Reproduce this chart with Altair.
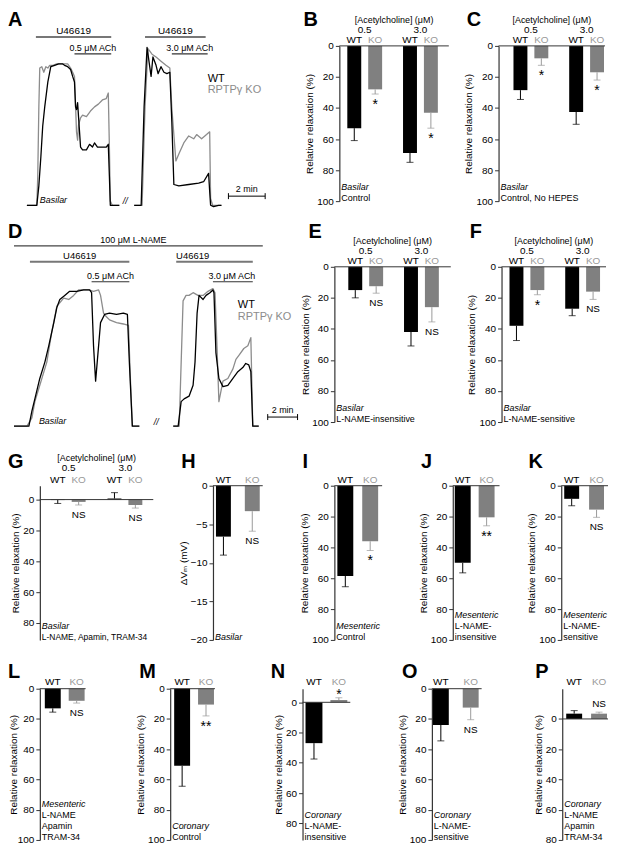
import altair as alt
import pandas as pd

FONT = "Liberation Sans"
AX = "#333333"
KO_BAR = "#808080"
KO_LINE = "#9a9a9a"
KO_TEXT = "#999999"
KO_TRACE = "#8c8c8c"

# ================= Panel A : tension traces, basilar (time in min, % of plateau)
A1_WT_t = [0, 0.54, 0.65, 0.76, 0.86, 0.97, 1.14, 1.30, 1.51, 1.73, 1.95, 2.05, 2.22, 2.38, 2.49, 2.59, 2.65, 2.70, 2.76, 2.81, 2.92, 3.03, 3.24, 3.41, 3.57, 3.68, 3.84, 4.00, 4.16, 4.32, 4.43, 4.49, 4.54, 5.03]
A1_WT_v = [0, 0, 14, 35, 57, 71, 89, 100, 101, 102, 102, 101, 100, 98, 93, 89, 71, 69, 74, 64, 42, 40, 40, 44, 42, 45, 42, 42, 42, 42, 44, 21, 0, 0]
A1_KO_t = [0, 0.54, 0.59, 0.65, 0.70, 0.81, 0.92, 1.03, 1.14, 1.24, 1.41, 1.62, 1.84, 2.05, 2.22, 2.38, 2.49, 2.59, 2.65, 2.70, 2.76, 2.81, 2.92, 3.03, 3.24, 3.46, 3.68, 3.89, 4.11, 4.32, 4.43, 4.49, 4.54, 4.65, 5.03]
A1_KO_v = [0, 0, 21, 71, 99, 100, 96, 100, 99, 101, 101, 102, 102, 102, 102, 99, 96, 93, 71, 53, 47, 58, 63, 65, 64, 68, 71, 73, 76, 77, 81, 42, 3, 0, 0]
A2_WT_t = [5.84, 6.22, 6.38, 6.54, 6.76, 6.86, 7.03, 7.14, 7.30, 7.46, 7.62, 7.78, 7.89, 8.00, 8.27, 8.81, 9.35, 9.62, 9.89, 9.95, 10.00, 10.16, 10.43, 10.59]
A2_WT_v = [0, 0, 71, 114, 93, 107, 101, 95, 100, 96, 95, 96, 60, 15, 14, 15, 16, 17, 23, 10, 0, -1, 0, 0]
A2_KO_t = [5.84, 6.27, 6.43, 6.59, 6.81, 7.03, 7.30, 7.57, 7.78, 7.89, 8.11, 8.27, 8.54, 8.81, 9.08, 9.24, 9.51, 9.78, 9.95, 10.00, 10.11, 10.59]
A2_KO_v = [0, 0, 71, 113, 109, 107, 104, 101, 99, 70, 32, 37, 45, 50, 48, 51, 48, 51, 53, 5, 0, 0]
A_U46619_start = [0.49, 6.43]
A_U46619_end = [4.59, 9.73]
A_ACh_start = [2.59, 7.89]
A_ACh_end = [4.59, 9.84]
A_ACh_label = ["0.5 μM ACh", "3.0 μM ACh"]
A_scalebar = [10.97, 12.97]
A_break_t = [5.35]
A_legend_t = [9.84]
A_basilar_t = [0.70]

# ================= Panel D : tension traces with L-NAME
D1_WT_t = [0, 1.0, 1.2, 1.4, 1.73, 2.07, 2.33, 2.67, 2.87, 3.07, 3.4, 3.73, 4.2, 4.67, 5.07, 5.2, 5.33, 5.47, 5.67, 5.8, 6.07, 6.4, 6.87, 7.33, 7.6, 7.73, 7.93, 8.4]
D1_WT_v = [0, 0, 11, 20, 35, 47, 59, 76, 87, 93, 96, 99, 99, 100, 100, 98, 59, 33, 59, 76, 82, 83, 82, 83, 82, 47, 0, 0]
D1_KO_t = [0, 0.87, 1.2, 1.4, 1.73, 2.2, 2.53, 2.87, 3.33, 3.67, 4.0, 4.33, 5.0, 5.33, 5.67, 5.8, 6.0, 6.13, 6.4, 6.87, 7.33, 7.67, 7.8, 7.93, 8.4]
D1_KO_v = [0, 0, 6, 18, 30, 47, 69, 88, 94, 93, 96, 100, 100, 99, 100, 96, 83, 81, 78, 76, 75, 74, 35, 0, 0]
D2_WT_t = [10.67, 11.0, 11.2, 11.4, 11.73, 12.0, 12.13, 12.27, 12.4, 12.67, 12.87, 13.13, 13.33, 13.4, 13.53, 13.73, 14.0, 14.33, 14.67, 15.0, 15.33, 15.53, 15.73, 15.87, 16.0, 16.4]
D2_WT_v = [0, 0, 18, 20, 22, 30, 47, 83, 96, 93, 96, 98, 100, 98, 54, 35, 29, 30, 35, 40, 43, 46, 45, 40, 0, 0]
D2_KO_t = [10.67, 11.07, 11.33, 11.53, 11.73, 12.0, 12.33, 12.67, 13.0, 13.33, 13.47, 13.6, 13.73, 14.0, 14.33, 14.67, 14.87, 15.07, 15.4, 15.67, 15.87, 16.0, 16.4]
D2_KO_v = [0, 0, 92, 96, 96, 98, 96, 96, 99, 101, 98, 59, 18, 33, 35, 42, 49, 52, 57, 59, 65, 0, 0]
D_LNAME = [0.0, 16.67]
D_U46619_start = [1.07, 10.87]
D_U46619_end = [7.73, 16.0]
D_U46619_label_t = [4.4, 11.97]
D_ACh_start = [5.2, 13.33]
D_ACh_end = [7.73, 16.0]
D_ACh_label_t = [6.47, 14.6]
D_scalebar = [17.0, 19.0]
D_break_t = [9.53]
D_legend_t = [15.0]
D_basilar_t = [1.67]

# ================= Bar panels (relative relaxation %, mean and SEM)
DOSES = ["0.5", "3.0"]
GENOS = ["WT", "KO"]
B_WT = [53, 69];   B_WT_sem = [8, 6];    B_KO = [28, 43];  B_KO_sem = [3, 10];   B_sig = ["*", "*"]
C_WT = [28.5, 42.5]; C_WT_sem = [6, 8];  C_KO = [8, 17];   C_KO_sem = [4.5, 5];  C_sig = ["*", "*"]
E_WT = [15, 42];   E_WT_sem = [5, 9];    E_KO = [12.5, 26]; E_KO_sem = [4.5, 9.5]; E_sig = ["NS", "NS"]
F_WT = [38, 27];   F_WT_sem = [9.5, 4.5]; F_KO = [15, 16]; F_KO_sem = [3, 5];    F_sig = ["*", "NS"]
G_WT = [0.3, -0.7]; G_WT_sem = [2.2, 3.8]; G_KO = [1.5, 3.5]; G_KO_sem = [2, 2]; G_sig = ["NS", "NS"]
# two-bar panels: [WT, KO]
H_val = [-6.6, -3.3]; H_sem = [2.4, 2.6]; H_sig = "NS"
I_val = [58.5, 36];   I_sem = [7, 6];     I_sig = "*"
J_val = [50, 20.5];   J_sem = [6.5, 5.5]; J_sig = "**"
K_val = [8.5, 15.5];  K_sem = [4.5, 5];   K_sig = "NS"
L_val = [13, 8];      L_sem = [2.5, 1.5]; L_sig = "NS"
M_val = [51, 10.5];   M_sem = [13.5, 7.5]; M_sig = "**"
N_val = [27, -1.5];   N_sem = [10.5, 1.5]; N_sig = "*"
O_val = [24, 12.5];   O_sem = [10.5, 8];  O_sig = "NS"
P_val = [-3.5, -3.5]; P_sem = [2, 1];     P_sig = "NS"

ONE = alt.Data(values=[{"k": 0}])


def finish_df(df, rev):
    sign = df["value"].apply(lambda v: 1 if v >= 0 else -1)
    df["end"] = df["value"] + df["sem"] * sign
    df["below"] = (df["end"] > df["value"]) if rev else (df["end"] < df["value"])
    return df


def grouped_df(wt, wt_sem, ko, ko_sem, sig, rev=True):
    rows = []
    for i, d in enumerate(DOSES):
        rows.append(dict(dose=d, geno="WT", value=wt[i], sem=wt_sem[i], sig=""))
        rows.append(dict(dose=d, geno="KO", value=ko[i], sem=ko_sem[i], sig=sig[i]))
    return finish_df(pd.DataFrame(rows), rev)


def pair_df(val, sem, sig, rev=True):
    df = pd.DataFrame(dict(geno=GENOS, value=val, sem=sem, sig=["", sig]))
    return finish_df(df, rev)


def marker(LEFT, TOP, H, BOT):
    return alt.Chart(ONE).mark_rule(opacity=0, strokeWidth=0).encode(
        x=alt.value(-LEFT), y=alt.value(-TOP), y2=alt.value(H + BOT))


def letter(ch, x, y):
    return alt.Chart(ONE).mark_text(
        text=ch, font=FONT, fontSize=20, fontWeight="bold", align="left",
        baseline="top", color="black").encode(x=alt.value(x), y=alt.value(y))


def bar_panel(ch, lx, ly, df, W, H, LEFT, TOP, BOT, ydom, yticks, rev, ytitle,
              notes, grouped, step, band, start, title_pad=2, geno_y=-6,
              dose_y=-16, header_y=-26):
    pi = 1 - band / step
    po = (W - step - band) / (2 * step)
    al = start / (W - step - band)
    if grouped:
        xs = alt.Scale(domain=DOSES, paddingInner=pi, paddingOuter=po, align=al)
        xe = dict(x=alt.X("dose:N", scale=xs, axis=None),
                  xOffset=alt.XOffset("geno:N", scale=alt.Scale(
                      domain=GENOS, paddingInner=1 / 3, paddingOuter=0)))
    else:
        xs = alt.Scale(domain=GENOS, paddingInner=pi, paddingOuter=po, align=al)
        xe = dict(x=alt.X("geno:N", scale=xs, axis=None))
    ys = alt.Scale(domain=ydom, reverse=rev, nice=False, zero=False)
    yaxis = alt.Axis(values=yticks, title=ytitle, titlePadding=title_pad,
                     labelFlush=False, labelOverlap=False, grid=False, tickSize=4,
                     domainColor=AX, tickColor=AX, domainWidth=1.2, tickWidth=1,
                     labelFontSize=10, titleFontSize=10, labelFont=FONT,
                     titleFont=FONT + ", DejaVu Sans", titleFontWeight="normal",
                     labelPadding=2, labelColor="black", titleColor="black")

    def Y(field):
        return alt.Y(field, scale=ys, axis=yaxis, title=ytitle)

    is_wt = "datum.geno == 'WT'"
    base = alt.Chart(df)
    layers = [marker(LEFT, TOP, H, BOT), letter(ch, lx, ly)]
    layers.append(base.mark_bar().encode(
        **xe, y=Y("value:Q"), y2=alt.datum(0),
        color=alt.condition(is_wt, alt.value("#000000"), alt.value(KO_BAR))))
    layers.append(alt.Chart(ONE).mark_rule(color=AX, strokeWidth=1).encode(
        y=alt.Y(datum=0, scale=ys, axis=yaxis, title=ytitle)))
    layers.append(base.mark_rule(strokeWidth=1).encode(
        **xe, y=Y("value:Q"), y2="end:Q",
        color=alt.condition(is_wt, alt.value("#000000"), alt.value(KO_LINE))))
    layers.append(base.mark_tick(thickness=1, size=7, orient="horizontal").encode(
        **xe, y=Y("end:Q"),
        color=alt.condition(is_wt, alt.value("#000000"), alt.value(KO_LINE))))
    layers.append(base.mark_text(fontSize=10, baseline="middle").encode(
        **xe, y=alt.value(geno_y), text="geno:N",
        color=alt.condition(is_wt, alt.value("#000000"), alt.value(KO_TEXT))))
    if grouped:
        layers.append(alt.Chart(pd.DataFrame({"dose": DOSES})).mark_text(
            fontSize=10, baseline="middle").encode(
            x=alt.X("dose:N", scale=xs, axis=None), y=alt.value(dose_y), text="dose:N"))
        layers.append(alt.Chart(ONE).mark_text(
            text="[Acetylcholine] (μM)", fontSize=9, baseline="middle").encode(
            x=alt.value(W / 2), y=alt.value(header_y)))
    star = "(datum.sig == '*' || datum.sig == '**')"
    ns = "datum.sig == 'NS'"
    for cond, fs, dyb, dya in [(star, 14, 4, 1), (ns, 10, 5, -5)]:
        layers.append(base.transform_filter(cond + " && datum.below").mark_text(
            fontSize=fs, baseline="top", dy=dyb).encode(
            **xe, y=Y("end:Q"), text="sig:N"))
        layers.append(base.transform_filter(cond + " && !datum.below").mark_text(
            fontSize=fs, baseline="alphabetic", dy=dya).encode(
            **xe, y=Y("end:Q"), text="sig:N"))
    n = len(notes)
    for i, (txt, italic, nfs) in enumerate(notes):
        layers.append(alt.Chart(ONE).mark_text(
            text=txt, fontSize=nfs, fontStyle="italic" if italic else "normal",
            align="left", baseline="middle").encode(
            x=alt.value(2), y=alt.value(H - 3 - 11 * (n - 1 - i))))
    return alt.layer(*layers).properties(width=W, height=H)


def line_layer(segs, color, xs, ys):
    frames = [pd.DataFrame({"t": t, "v": v, "seg": k}) for k, (t, v) in enumerate(segs)]
    return alt.Chart(pd.concat(frames)).mark_line(
        color=color, strokeWidth=1.3, strokeJoin="round").encode(
        x=alt.X("t:Q", scale=xs, axis=None), y=alt.Y("v:Q", scale=ys, axis=None),
        detail="seg:N")


def interval_layer(starts, ends, xs, y, color, width):
    return alt.Chart(pd.DataFrame({"s": starts, "e": ends})).mark_rule(
        color=color, strokeWidth=width).encode(
        x=alt.X("s:Q", scale=xs, axis=None), x2="e:Q", y=alt.value(y))


def text_layer(ts, labels, xs, y, **mk):
    return alt.Chart(pd.DataFrame({"t": ts, "lab": labels})).mark_text(
        baseline="middle", **mk).encode(
        x=alt.X("t:Q", scale=xs, axis=None), y=alt.value(y), text="lab:N")


def scalebar_layers(bar, xs, y):
    return [interval_layer([bar[0]], [bar[1]], xs, y, "black", 1),
            alt.Chart(pd.DataFrame({"t": bar})).mark_rule(color="black", strokeWidth=1).encode(
                x=alt.X("t:Q", scale=xs, axis=None), y=alt.value(y - 3), y2=alt.value(y + 3)),
            text_layer([(bar[0] + bar[1]) / 2], ["2 min"], xs, y - 7, fontSize=9)]


def mid(a, b):
    return [(x + y) / 2 for x, y in zip(a, b)]


# ---------------- Row 1
H1, TOP1, BOT1 = 156, 36, 8
xsA = alt.Scale(domain=[0.704, 13.0], nice=False, zero=False)
ysA = alt.Scale(domain=[3, 115], nice=False, zero=False)
panelA = alt.layer(
    marker(32, TOP1, H1, BOT1), letter("A", -32, -36),
    line_layer([(A1_KO_t, A1_KO_v), (A2_KO_t, A2_KO_v)], KO_TRACE, xsA, ysA),
    line_layer([(A1_WT_t, A1_WT_v), (A2_WT_t, A2_WT_v)], "#000000", xsA, ysA),
    interval_layer(A_U46619_start, A_U46619_end, xsA, -9, "#777777", 2),
    text_layer(mid(A_U46619_start, A_U46619_end), ["U46619", "U46619"], xsA, -15, fontSize=10),
    interval_layer(A_ACh_start, A_ACh_end, xsA, 8, "#333333", 1.2),
    text_layer(mid(A_ACh_start, A_ACh_end), A_ACh_label, xsA, 2.5, fontSize=9),
    text_layer(A_legend_t, ["WT"], xsA, 33, fontSize=11, align="left"),
    text_layer(A_legend_t, ["RPTPγ KO"], xsA, 44, fontSize=11, align="left", color=KO_TRACE),
    *scalebar_layers(A_scalebar, xsA, 151),
    text_layer(A_basilar_t, ["Basilar"], xsA, 155, fontSize=9, align="left", fontStyle="italic"),
    text_layer(A_break_t, ["//"], xsA, 156, fontSize=9, fontStyle="italic"),
).properties(width=227, height=H1)

RR = "Relative relaxation (%)"
T100 = [0, 20, 40, 60, 80, 100]

panelB = bar_panel("B", -36, -36, grouped_df(B_WT, B_WT_sem, B_KO, B_KO_sem, B_sig),
                   110, H1, 74, TOP1, BOT1, [0, 100], T100, True, RR,
                   [("Basilar", True, 9), ("Control", False, 9)], True, 56, 35, 8)
panelC = bar_panel("C", -32, -36, grouped_df(C_WT, C_WT_sem, C_KO, C_KO_sem, C_sig),
                   107, H1, 49, TOP1, BOT1, [0, 100], T100, True, RR,
                   [("Basilar", True, 9), ("Control, No HEPES", False, 9)], True, 56, 35, 15)
row1 = alt.hconcat(panelA, panelB, panelC, spacing=0)

# ---------------- Row 2
H2, TOP2, BOT2 = 156, 58, 8
xsD = alt.Scale(domain=[1.733, 19.0], nice=False, zero=False)
ysD = alt.Scale(domain=[3, 117], nice=False, zero=False)
panelD = alt.layer(
    marker(32, TOP2, H2, BOT2), letter("D", -32, -45),
    line_layer([(D1_KO_t, D1_KO_v), (D2_KO_t, D2_KO_v)], KO_TRACE, xsD, ysD),
    line_layer([(D1_WT_t, D1_WT_v), (D2_WT_t, D2_WT_v)], "#000000", xsD, ysD),
    interval_layer([D_LNAME[0]], [D_LNAME[1]], xsD, -21, "#444444", 1.2),
    text_layer([8.0], ["100 μM L-NAME"], xsD, -27, fontSize=9),
    interval_layer(D_U46619_start, D_U46619_end, xsD, -5, "#777777", 2),
    text_layer(D_U46619_label_t, ["U46619", "U46619"], xsD, -11, fontSize=9.5),
    interval_layer(D_ACh_start, D_ACh_end, xsD, 15, "#333333", 1.2),
    text_layer(D_ACh_label_t, ["0.5 μM ACh", "3.0 μM ACh"], xsD, 9.5, fontSize=9),
    text_layer(D_legend_t, ["WT"], xsD, 38, fontSize=11, align="left"),
    text_layer(D_legend_t, ["RPTPγ KO"], xsD, 50, fontSize=11, align="left", color=KO_TRACE),
    *scalebar_layers(D_scalebar, xsD, 151),
    text_layer(D_basilar_t, ["Basilar"], xsD, 155, fontSize=9, align="left", fontStyle="italic"),
    text_layer(D_break_t, ["//"], xsD, 156, fontSize=9, fontStyle="italic"),
).properties(width=259, height=H2)

panelE = bar_panel("E", -26, -45, grouped_df(E_WT, E_WT_sem, E_KO, E_KO_sem, E_sig),
                   117, H2, 36, TOP2, BOT2, [0, 100], T100, True, RR,
                   [("Basilar", True, 9), ("L-NAME-insensitive", False, 9)],
                   True, 56, 35, 14, title_pad=1)
panelF = bar_panel("F", -32, -45, grouped_df(F_WT, F_WT_sem, F_KO, F_KO_sem, F_sig),
                   105, H2, 50, TOP2, BOT2, [0, 100], T100, True, RR,
                   [("Basilar", True, 9), ("L-NAME-sensitive", False, 9)], True, 56, 35, 8)
row2 = alt.hconcat(panelD, panelE, panelF, spacing=0)

# ---------------- Row 3
H3, TOP3, BOT3 = 155, 56, 6
panelG = bar_panel("G", -32, -34, grouped_df(G_WT, G_WT_sem, G_KO, G_KO_sem, G_sig),
                   114, H3, 32, TOP3, BOT3, [-9, 91], [0, 20, 40, 60, 80], True, RR,
                   [("Basilar", True, 9), ("L-NAME, Apamin, TRAM-34", False, 8.5)],
                   True, 57, 36, 11, dose_y=-18, header_y=-28)
panelH = bar_panel("H", -32, -34, pair_df(H_val, H_sem, H_sig, rev=False),
                   50, H3, 59, TOP3, BOT3, [-20, 0], [0, -5, -10, -15, -20], False,
                   "ΔVₘ (mV)", [("Basilar", True, 9)], False, 29, 15, 3)
panelI = bar_panel("I", -32, -34, pair_df(I_val, I_sem, I_sig), 48, H3, 71, TOP3, BOT3,
                   [0, 100], T100, True, RR, [("Mesenteric", True, 9), ("Control", False, 9)],
                   False, 25, 16, 3)
panelJ = bar_panel("J", -32, -34, pair_df(J_val, J_sem, J_sig), 47, H3, 70, TOP3, BOT3,
                   [0, 100], T100, True, RR,
                   [("Mesenteric", True, 9), ("L-NAME-", False, 9), ("insensitive", False, 9)],
                   False, 24, 16, 2)
panelK = bar_panel("K", -33, -34, pair_df(K_val, K_sem, K_sig), 47, H3, 61, TOP3, BOT3,
                   [0, 100], T100, True, RR,
                   [("Mesenteric", True, 9), ("L-NAME-", False, 9), ("sensitive", False, 9)],
                   False, 25, 15, 3)
row3 = alt.hconcat(panelG, panelH, panelI, panelJ, panelK, spacing=0)

# ---------------- Row 4
H4, TOP4, BOT4 = 152, 43, 5
panelL = bar_panel("L", -32, -27, pair_df(L_val, L_sem, L_sig), 46, H4, 32, TOP4, BOT4,
                   [0, 100], T100, True, RR,
                   [("Mesenteric", True, 9), ("L-NAME", False, 9), ("Apamin", False, 9), ("TRAM-34", False, 9)],
                   False, 24, 16, 5, title_pad=-1, geno_y=-7)
panelM = bar_panel("M", -31, -27, pair_df(M_val, M_sem, M_sig), 45, H4, 84, TOP4, BOT4,
                   [0, 100], T100, True, RR, [("Coronary", True, 9), ("Control", False, 9)],
                   False, 24, 16, 4, geno_y=-7)
panelN = bar_panel("N", -32, -27, pair_df(N_val, N_sem, N_sig), 48, H4, 87, TOP4, BOT4,
                   [-9, 91], [0, 20, 40, 60, 80], True, RR,
                   [("Coronary", True, 9), ("L-NAME-", False, 9), ("insensitive", False, 9)],
                   False, 25, 17, 3, geno_y=-7)
panelO = bar_panel("O", -30, -27, pair_df(O_val, O_sem, O_sig), 50, H4, 81, TOP4, BOT4,
                   [0, 100], T100, True, RR,
                   [("Coronary", True, 9), ("L-NAME-", False, 9), ("sensitive", False, 9)],
                   False, 30, 16, 1, geno_y=-7)
panelP = bar_panel("P", -27, -27, pair_df(P_val, P_sem, P_sig), 46, H4, 80, TOP4, BOT4,
                   [-20, 80], [0, 20, 40, 60, 80], True, RR,
                   [("Coronary", True, 9), ("L-NAME", False, 9), ("Apamin", False, 9), ("TRAM-34", False, 9)],
                   False, 25, 16, 4, geno_y=-7)
row4 = alt.hconcat(panelL, panelM, panelN, panelO, panelP, spacing=0)

chart = alt.vconcat(row1, row2, row3, row4, spacing=0).properties(
    padding=0
).configure(font=FONT).configure_view(stroke=None).configure_text(font=FONT)

chart.save("out.html", embed_options={"renderer": "svg", "actions": False})
